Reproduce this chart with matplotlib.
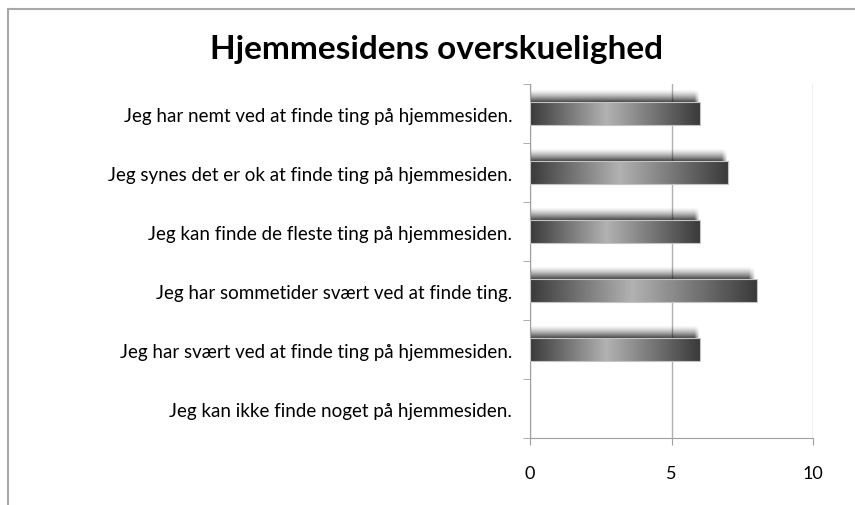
import numpy as np
import matplotlib
matplotlib.use('Agg')
from matplotlib import pyplot as plt
from matplotlib.colors import LinearSegmentedColormap
from matplotlib.lines import Line2D

plt.rcParams['font.family'] = ['Lato', 'DejaVu Sans']

title = 'Hjemmesidens overskuelighed'
categories = ['Jeg har nemt ved at finde ting på hjemmesiden.',
              'Jeg synes det er ok at finde ting på hjemmesiden.',
              'Jeg kan finde de fleste ting på hjemmesiden.',
              'Jeg har sommetider svært ved at finde ting.',
              'Jeg har svært ved at finde ting på hjemmesiden.',
              'Jeg kan ikke finde noget på hjemmesiden.']
values = [6, 7, 6, 8, 6, 0]
xticks = [0, 5, 10]

cmap = LinearSegmentedColormap.from_list(
    'bar', [(0, '#3a3a3a'), (0.45, '#b2b2b2'), (1, '#3a3a3a')])
grad = np.linspace(0, 1, 256).reshape(1, -1)


def shadow_img(nx=200, ny=40):
    # black image, alpha fades upward and at the right end
    t = np.linspace(0, 1, ny).reshape(-1, 1)      # 0 top -> 1 bottom
    s = np.linspace(0, 1, nx).reshape(1, -1)
    a = 0.72 * t ** 1.4 * np.clip((1 - s) / 0.03, 0, 1)
    img = np.zeros((ny, nx, 4))
    img[..., 3] = a
    return img


fig = plt.figure(figsize=(8.55, 5.06), dpi=100)
ax = fig.add_axes([0.620, 0.132, 0.331, 0.700])

bar_h = 0.39
sh_h = 0.22
ypos = np.arange(len(categories))
for y, v in zip(ypos, values):
    if v <= 0:
        continue
    top = y - bar_h / 2
    ax.imshow(shadow_img(), aspect='auto', zorder=2, interpolation='bilinear',
              extent=(0, v - 0.02, top, top - sh_h))
    rect = plt.Rectangle((0, top), v, bar_h, facecolor='none',
                         edgecolor='#c4c4c4', lw=0.8, zorder=4)
    ax.add_patch(rect)
    im = ax.imshow(grad, cmap=cmap, aspect='auto', zorder=3,
                   extent=(0, v, y + bar_h / 2, top))
    im.set_clip_path(rect)

ax.set_xlim(0, 10)
ax.set_ylim(len(categories) - 0.5, -0.5)
ax.set_xticks(xticks)
ax.set_xticklabels([str(t) for t in xticks], fontsize=13)
ax.set_yticks(ypos)
ax.set_yticklabels(categories, fontsize=13.5)
ax.tick_params(axis='y', length=0, pad=13)
ax.tick_params(axis='x', length=5, color='#a0a0a0', pad=14)
ax.set_yticks(np.arange(-0.5, len(categories), 1), minor=True)
ax.tick_params(axis='y', which='minor', length=5, color='#a0a0a0')
ax.xaxis.grid(True, color='#b0b0b0', lw=1)
ax.set_axisbelow(True)
for s in ['top', 'right']:
    ax.spines[s].set_visible(False)
for s in ['left', 'bottom']:
    ax.spines[s].set_color('#a0a0a0')

fig.text(0.511, 0.903, title, ha='center', va='center', fontsize=24,
         fontweight='bold')

fig.add_artist(Line2D([0.0095, 0.0095], [0, 0.98], color='#a8a8a8', lw=1.5))
fig.add_artist(Line2D([0.0095, 1.0], [0.98, 0.98], color='#a8a8a8', lw=1.5))

fig.savefig('out.png', dpi=100)
